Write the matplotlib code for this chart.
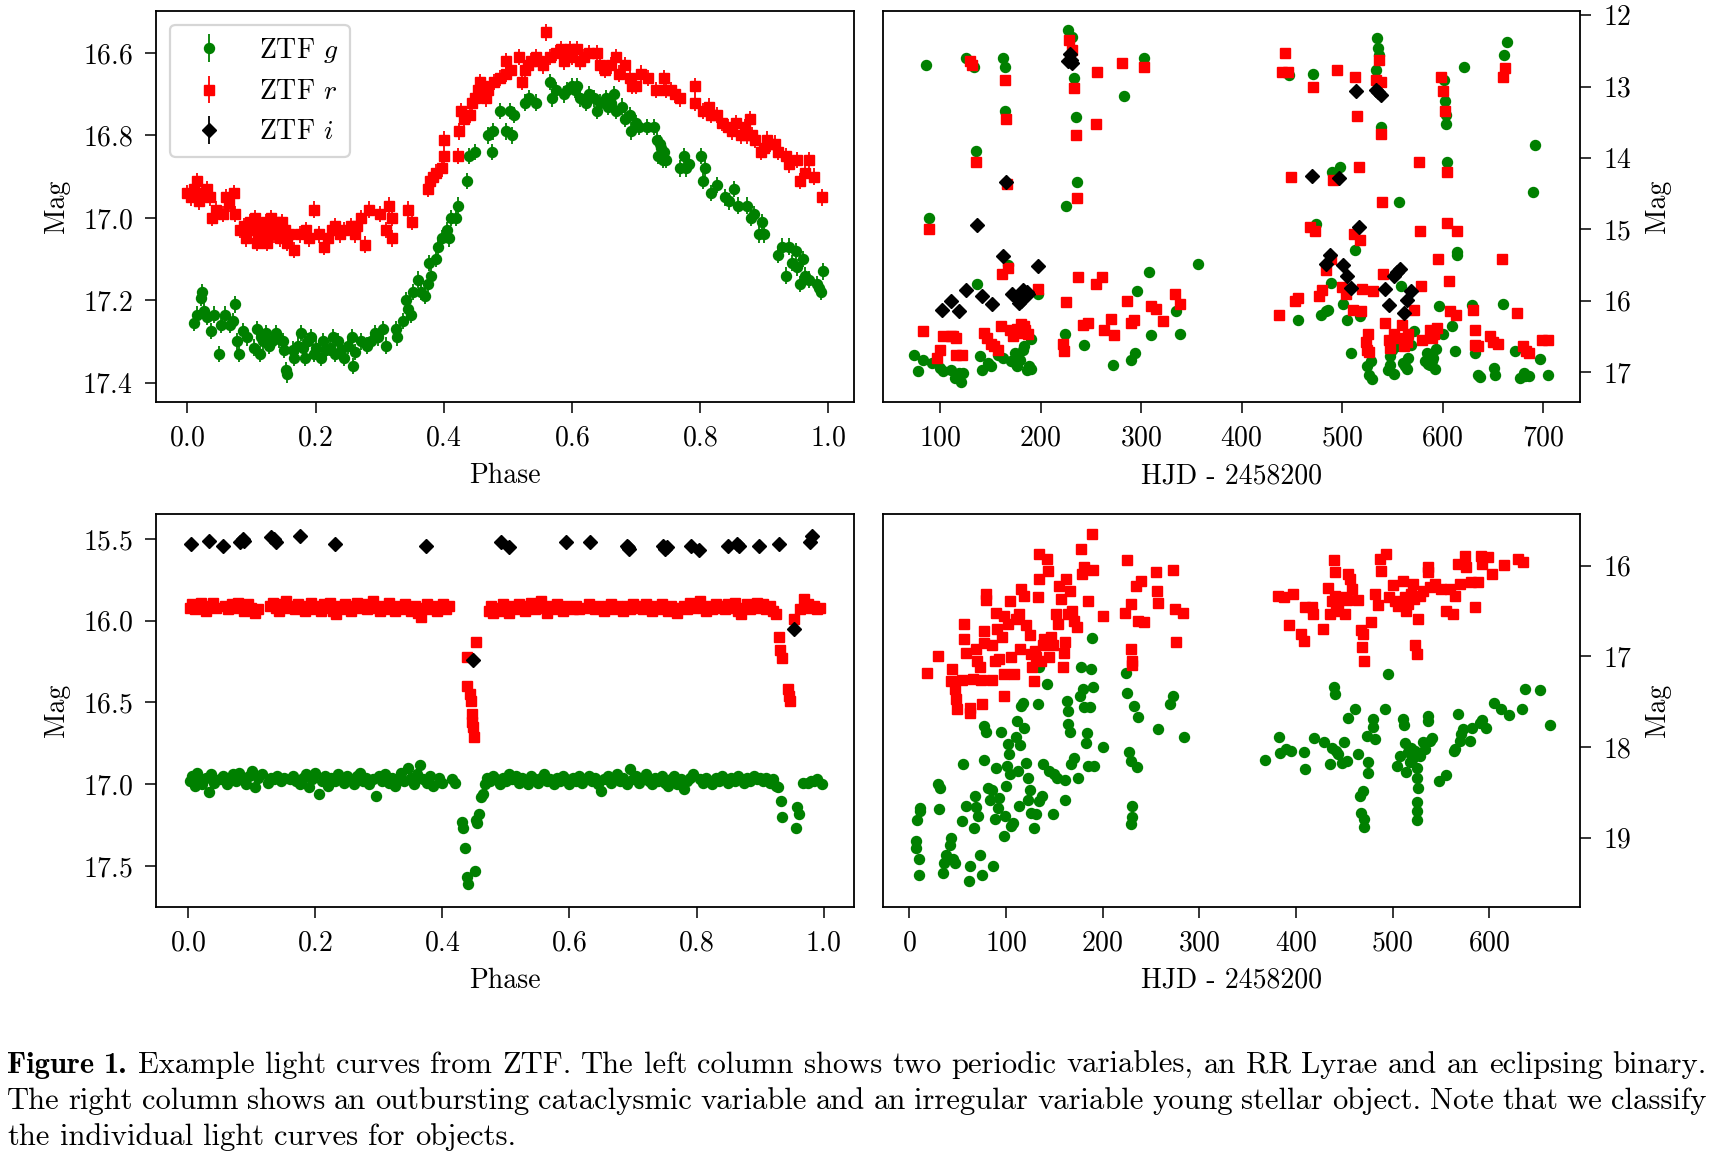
import matplotlib
matplotlib.use("Agg")
import matplotlib.pyplot as plt
import numpy as np
from matplotlib.ticker import MultipleLocator

plt.rcParams['font.family'] = ['cmr10', 'DejaVu Serif']
plt.rcParams['mathtext.fontset'] = 'cm'
plt.rcParams['axes.formatter.use_mathtext'] = True
plt.rcParams['font.size'] = 20
plt.rcParams['axes.unicode_minus'] = False

# ---------------- RR Lyrae (top left), phase folded ----------------
rr_g_phase = [0.010, 0.015, 0.021, 0.023, 0.026, 0.030, 0.036, 0.041, 0.049, 0.052,
              0.059, 0.067, 0.071, 0.075, 0.078, 0.080, 0.086, 0.093, 0.104, 0.108,
              0.113, 0.115, 0.122, 0.132, 0.139, 0.149, 0.151, 0.154, 0.156, 0.165,
              0.167, 0.177, 0.180, 0.184, 0.189, 0.193, 0.197, 0.201, 0.208, 0.212,
              0.223, 0.227, 0.231, 0.240, 0.245, 0.257, 0.259, 0.262, 0.271, 0.280,
              0.286, 0.293, 0.305, 0.310, 0.325, 0.327, 0.336, 0.345, 0.349, 0.353,
              0.365, 0.371, 0.375, 0.377, 0.380, 0.388, 0.392, 0.397, 0.405, 0.408,
              0.411, 0.420, 0.423, 0.436, 0.440, 0.449, 0.469, 0.475, 0.477, 0.488,
              0.498, 0.503, 0.507, 0.510, 0.527, 0.533, 0.545, 0.566, 0.570, 0.575,
              0.592, 0.601, 0.609, 0.613, 0.622, 0.627, 0.635, 0.640, 0.653, 0.657,
              0.666, 0.670, 0.679, 0.683, 0.691, 0.693, 0.705, 0.718, 0.729, 0.733,
              0.735, 0.740, 0.744, 0.748, 0.770, 0.776, 0.779, 0.783, 0.802, 0.805,
              0.809, 0.818, 0.827, 0.840, 0.846, 0.853, 0.860, 0.874, 0.880, 0.885,
              0.892, 0.898, 0.900, 0.922, 0.929, 0.935, 0.939, 0.944, 0.950, 0.957,
              0.961, 0.965, 0.983, 0.990, 0.993,
              0.118, 0.127, 0.143, 0.172, 0.217, 0.235, 0.250, 0.298, 0.342, 0.360,
              0.588, 0.605, 0.645, 0.662, 0.700, 0.738, 0.742, 0.952, 0.970, 0.987]
rr_g_mag = [17.255, 17.235, 17.195, 17.180, 17.227, 17.240, 17.275, 17.235, 17.330, 17.260,
            17.235, 17.260, 17.250, 17.210, 17.300, 17.330, 17.275, 17.290, 17.315, 17.270,
            17.330, 17.290, 17.280, 17.300, 17.280, 17.300, 17.320, 17.370, 17.380, 17.320,
            17.340, 17.280, 17.315, 17.340, 17.300, 17.290, 17.330, 17.315, 17.340, 17.300,
            17.315, 17.290, 17.330, 17.320, 17.340, 17.290, 17.360, 17.325, 17.300, 17.310,
            17.300, 17.280, 17.270, 17.310, 17.270, 17.290, 17.250, 17.220, 17.235, 17.180,
            17.180, 17.190, 17.160, 17.110, 17.140, 17.100, 17.070, 17.050, 17.030, 17.050,
            17.000, 17.000, 16.970, 16.910, 16.850, 16.840, 16.800, 16.840, 16.790, 16.740,
            16.790, 16.740, 16.800, 16.750, 16.720, 16.710, 16.720, 16.670, 16.710, 16.690,
            16.690, 16.680, 16.680, 16.710, 16.720, 16.700, 16.710, 16.740, 16.710, 16.730,
            16.700, 16.740, 16.730, 16.760, 16.750, 16.790, 16.780, 16.780, 16.780, 16.810,
            16.850, 16.830, 16.840, 16.860, 16.880, 16.850, 16.880, 16.870, 16.850, 16.910,
            16.880, 16.940, 16.920, 16.950, 16.960, 16.930, 16.970, 16.970, 17.000, 16.990,
            17.040, 17.010, 17.040, 17.090, 17.070, 17.140, 17.070, 17.110, 17.080, 17.160,
            17.100, 17.140, 17.160, 17.180, 17.130,
            17.300, 17.310, 17.295, 17.310, 17.320, 17.300, 17.310, 17.290, 17.200, 17.150,
            16.700, 16.690, 16.720, 16.720, 16.770, 16.820, 16.860, 17.120, 17.150, 17.170]

rr_r_phase = [0.000, 0.005, 0.010, 0.015, 0.018, 0.022, 0.035, 0.038, 0.045, 0.055,
              0.060, 0.065, 0.072, 0.075, 0.089, 0.092, 0.097, 0.100, 0.105, 0.110,
              0.114, 0.118, 0.122, 0.127, 0.131, 0.135, 0.140, 0.144, 0.148, 0.152,
              0.158, 0.167, 0.175, 0.185, 0.197, 0.205, 0.214, 0.220, 0.230, 0.238,
              0.245, 0.255, 0.262, 0.271, 0.278, 0.284, 0.300, 0.314, 0.319, 0.320,
              0.345, 0.351, 0.375, 0.379, 0.388, 0.397, 0.401, 0.422, 0.401, 0.424,
              0.427, 0.441, 0.449, 0.453, 0.457, 0.466, 0.470, 0.479, 0.488, 0.497,
              0.497, 0.518, 0.523, 0.527, 0.536, 0.545, 0.549, 0.560, 0.566, 0.575,
              0.583, 0.592, 0.601, 0.609, 0.613, 0.627, 0.640, 0.644, 0.661, 0.670,
              0.674, 0.683, 0.691, 0.700, 0.708, 0.731, 0.744, 0.748, 0.762, 0.770,
              0.792, 0.792, 0.805, 0.814, 0.827, 0.835, 0.844, 0.856, 0.865, 0.874,
              0.878, 0.887, 0.896, 0.905, 0.918, 0.922, 0.935, 0.939, 0.952, 0.957,
              0.965, 0.970, 0.978, 0.991,
              0.030, 0.082, 0.108, 0.125, 0.138, 0.155, 0.190, 0.225, 0.265, 0.310,
              0.383, 0.432, 0.445, 0.462, 0.505, 0.532, 0.555, 0.588, 0.597, 0.620,
              0.652, 0.695, 0.720, 0.755, 0.818, 0.850, 0.870, 0.882, 0.900, 0.910]
rr_r_mag = [16.940, 16.950, 16.930, 16.910, 16.960, 16.940, 16.950, 17.000, 16.980, 16.990,
            16.950, 16.965, 16.940, 16.990, 17.020, 17.050, 17.010, 17.030, 17.000, 17.040,
            17.020, 17.050, 17.010, 17.030, 17.000, 17.040, 17.020, 17.050, 17.010, 17.030,
            17.040, 17.078, 17.040, 17.030, 16.980, 17.040, 17.070, 17.050, 17.020, 17.040,
            17.030, 17.020, 17.040, 17.000, 17.065, 16.980, 16.990, 16.970, 17.000, 17.050,
            16.980, 17.010, 16.930, 16.910, 16.890, 16.880, 16.850, 16.850, 16.810, 16.790,
            16.740, 16.750, 16.710, 16.690, 16.670, 16.710, 16.690, 16.670, 16.660, 16.620,
            16.650, 16.610, 16.670, 16.640, 16.620, 16.610, 16.620, 16.550, 16.610, 16.600,
            16.590, 16.600, 16.610, 16.590, 16.620, 16.600, 16.600, 16.630, 16.630, 16.610,
            16.650, 16.630, 16.660, 16.680, 16.650, 16.690, 16.660, 16.690, 16.700, 16.710,
            16.680, 16.720, 16.740, 16.730, 16.750, 16.770, 16.780, 16.770, 16.800, 16.800,
            16.760, 16.810, 16.840, 16.810, 16.820, 16.840, 16.850, 16.870, 16.860, 16.910,
            16.890, 16.860, 16.900, 16.950,
            16.930, 17.030, 17.060, 17.060, 17.010, 17.060, 17.050, 17.030, 17.020, 17.030,
            16.900, 16.760, 16.720, 16.680, 16.640, 16.630, 16.630, 16.620, 16.590, 16.610,
            16.640, 16.680, 16.660, 16.690, 16.750, 16.790, 16.780, 16.800, 16.830, 16.820]

# ---------------- cataclysmic variable (top right) ----------------
cv_g_hjd = [74, 78, 83, 86, 89, 92, 100, 103, 111, 115,
            119, 121, 123, 126, 134, 136, 137, 140, 142, 147,
            150, 157, 162, 162, 164, 164, 167, 170, 174, 176,
            179, 182, 183, 186, 188, 190, 197, 224, 227, 231,
            233, 235, 236, 225, 243, 272, 283, 290, 294, 296,
            303, 308, 310, 335, 339, 357,
            447, 456, 471, 474, 479, 484, 486, 489, 490, 498,
            501, 505, 509, 513, 518, 525, 527, 529, 534, 535,
            536, 537, 539, 546, 548, 550, 555, 557, 559, 561,
            566, 569, 572, 583, 585, 588, 591, 594, 597, 600,
            601, 602, 603, 604, 609, 612, 614, 621, 629, 632,
            635, 637, 651, 652, 660, 661, 664, 672, 677, 681,
            686, 690, 692, 697, 705,
            588, 590, 593, 586, 563, 565, 552, 548, 530, 603,
            614, 682, 190, 175]
cv_g_mag = [16.76, 16.99, 16.83, 12.70, 14.84, 16.87, 16.94, 16.99, 16.97, 17.08,
            17.01, 17.14, 17.01, 12.60, 12.73, 13.90, 15.77, 16.78, 16.97, 16.87,
            16.92, 16.76, 16.80, 12.60, 12.73, 13.34, 15.50, 16.85, 16.73, 16.92,
            16.83, 16.69, 16.64, 16.97, 16.92, 16.53, 15.90, 16.46, 12.20, 12.31,
            12.88, 13.43, 14.33, 14.67, 16.62, 16.90, 13.13, 16.83, 16.73, 15.87,
            12.60, 15.60, 16.48, 16.15, 16.47, 15.49,
            12.84, 16.27, 12.82, 14.92, 16.20, 16.15, 16.13, 15.75, 14.20, 14.13,
            16.04, 16.27, 16.73, 15.29, 16.22, 16.92, 17.04, 16.85, 12.77, 12.32,
            12.46, 12.55, 13.57, 16.97, 16.78, 16.69, 16.64, 14.62, 15.80, 16.87,
            16.80, 16.62, 16.43, 16.85, 16.73, 16.90, 16.80, 16.67, 16.08, 16.46,
            12.90, 13.20, 13.53, 14.05, 16.36, 16.70, 15.32, 12.73, 16.06, 16.73,
            17.04, 17.07, 16.94, 17.04, 16.04, 12.56, 12.37, 16.71, 17.08, 17.01,
            17.06, 14.47, 13.82, 16.81, 17.04,
            16.78, 16.85, 16.95, 16.88, 16.92, 16.96, 17.02, 16.90, 17.10, 13.40,
            15.36, 17.06, 16.95, 16.88]

cv_r_hjd = [83, 89, 97, 100, 103, 111, 116, 122, 130, 132,
            136, 144, 146, 150, 153, 157, 160, 161, 164, 165,
            166, 167, 169, 172, 176, 180, 184, 187, 197, 222,
            223, 225, 228, 231, 233, 235, 236, 237, 242, 247,
            255, 256, 255, 261, 263, 270, 273, 281, 286, 290,
            293, 303, 310, 315, 322, 334, 339,
            437, 440, 443, 446, 449, 453, 456, 468, 471, 473,
            477, 480, 484, 489, 491, 495, 500, 504, 511, 512,
            513, 515, 517, 518, 519, 520, 525, 526, 531, 534,
            537, 539, 539, 540, 541, 543, 547, 552, 560, 562,
            566, 572, 577, 578, 579, 580, 588, 592, 596, 599,
            600, 602, 604, 604, 606, 607, 613, 614, 630, 632,
            635, 647, 655, 659, 660, 662, 674, 680, 686, 699,
            705,
            116, 178, 183, 524, 527, 548, 556, 565, 590, 595,
            632, 650, 683, 113]
cv_r_mag = [16.42, 14.99, 16.80, 16.69, 16.50, 16.50, 16.76, 16.76, 12.64, 12.69,
            14.05, 16.45, 16.52, 16.60, 16.64, 16.69, 16.36, 15.62, 12.91, 13.46,
            14.36, 15.54, 16.41, 16.50, 16.39, 16.32, 16.41, 16.46, 15.84, 16.60,
            16.71, 16.02, 12.35, 12.48, 13.02, 13.68, 14.56, 15.67, 16.34, 16.31,
            13.52, 12.79, 15.77, 15.67, 16.41, 16.25, 16.48, 12.67, 16.00, 16.31,
            16.27, 12.73, 16.08, 16.12, 16.29, 15.90, 16.05,
            16.20, 12.79, 12.53, 12.79, 14.27, 16.01, 15.96, 14.96, 13.00, 15.02,
            15.94, 15.85, 15.57, 15.42, 14.31, 12.76, 15.81, 15.91, 16.13, 15.06,
            12.87, 13.41, 14.13, 15.15, 16.14, 15.84, 16.69, 16.46, 15.87, 12.90,
            12.63, 12.94, 13.66, 14.62, 15.62, 16.31, 16.55, 16.46, 16.34, 16.64,
            16.46, 16.13, 14.05, 15.02, 15.80, 16.55, 16.41, 16.46, 15.41, 12.86,
            13.06, 13.34, 14.19, 14.91, 15.73, 16.15, 16.20, 15.02, 16.13, 16.41,
            16.64, 16.50, 16.60, 15.41, 12.87, 12.74, 16.17, 16.64, 16.73, 16.55,
            16.55,
            16.52, 16.45, 16.36, 16.58, 16.72, 16.66, 16.52, 16.58, 16.52, 16.38,
            16.62, 16.58, 16.70, 16.50]

cv_i_hjd = [102, 111, 119, 126, 137, 142, 151, 162, 165, 171,
            178, 182, 187, 197, 227, 229, 231,
            470, 484, 488, 497, 501, 505, 509, 514, 517, 534,
            539, 543, 547, 552, 558, 562, 565, 569,
            176, 186, 536, 555, 230, 180]
cv_i_mag = [16.13, 16.01, 16.15, 15.85, 14.94, 15.94, 16.05, 15.38, 14.34, 15.91,
            16.03, 15.85, 15.91, 15.52, 12.64, 12.54, 12.67,
            14.25, 15.48, 15.36, 14.28, 15.50, 15.66, 15.82, 13.06, 14.96, 13.04,
            13.11, 15.83, 16.06, 15.66, 15.55, 16.17, 15.99, 15.87,
            15.96, 15.88, 13.07, 15.60, 12.62, 16.00]

# ---------------- eclipsing binary (bottom left), phase folded ----------------
eb_i_phase = [0.004, 0.032, 0.054, 0.081, 0.088, 0.130, 0.138, 0.176, 0.231, 0.374,
              0.448, 0.492, 0.504, 0.595, 0.633, 0.690, 0.694, 0.747, 0.753, 0.792,
              0.804, 0.849, 0.867, 0.899, 0.930, 0.953, 0.979, 0.982,
              0.086, 0.134, 0.750, 0.863, 0.692]
eb_i_mag = [15.53, 15.51, 15.54, 15.52, 15.51, 15.49, 15.52, 15.48, 15.53, 15.54,
            16.24, 15.52, 15.55, 15.52, 15.52, 15.54, 15.56, 15.54, 15.55, 15.54,
            15.57, 15.54, 15.54, 15.54, 15.53, 16.05, 15.52, 15.48,
            15.50, 15.50, 15.56, 15.53, 15.55]

eb_r_phase = [0.002, 0.006, 0.010, 0.014, 0.019, 0.023, 0.028, 0.033, 0.038, 0.043,
              0.058, 0.063, 0.068, 0.073, 0.078, 0.083, 0.088, 0.093, 0.098, 0.104,
              0.109, 0.128, 0.133, 0.138, 0.143, 0.148, 0.153, 0.158, 0.163, 0.168,
              0.173, 0.178, 0.183, 0.188, 0.193, 0.198, 0.203, 0.208, 0.213, 0.218,
              0.223, 0.228, 0.232, 0.236, 0.241, 0.246, 0.251, 0.256, 0.261, 0.266,
              0.271, 0.276, 0.281, 0.286, 0.291, 0.296, 0.301, 0.306, 0.311, 0.316,
              0.321, 0.326, 0.331, 0.336, 0.341, 0.346, 0.351, 0.356, 0.361, 0.366,
              0.371, 0.376, 0.381, 0.386, 0.391, 0.396, 0.401, 0.406, 0.410,
              0.438, 0.439, 0.445, 0.447, 0.448, 0.449, 0.446, 0.444, 0.453, 0.473,
              0.476, 0.480, 0.485, 0.490, 0.495, 0.500, 0.505, 0.510, 0.515, 0.520,
              0.525, 0.530, 0.535, 0.540, 0.545, 0.550, 0.555, 0.560, 0.565, 0.570,
              0.575, 0.580, 0.585, 0.590, 0.595, 0.605, 0.610, 0.615, 0.625, 0.630,
              0.640, 0.645, 0.650, 0.655, 0.660, 0.665, 0.670, 0.675, 0.680, 0.685,
              0.690, 0.695, 0.700, 0.705, 0.710, 0.715, 0.720, 0.725, 0.730, 0.735,
              0.740, 0.745, 0.750, 0.755, 0.760, 0.765, 0.770, 0.775, 0.780, 0.785,
              0.790, 0.795, 0.800, 0.805, 0.810, 0.815, 0.820, 0.825, 0.830, 0.835,
              0.840, 0.845, 0.850, 0.855, 0.860, 0.865, 0.870, 0.875, 0.880, 0.885,
              0.890, 0.895, 0.900, 0.905, 0.910, 0.915, 0.920, 0.925,
              0.930, 0.932, 0.935, 0.944, 0.947, 0.945, 0.954, 0.963, 0.970, 0.975,
              0.980, 0.985, 0.990, 0.994]
eb_r_mag = [15.92, 15.90, 15.93, 15.91, 15.89, 15.92, 15.94, 15.91, 15.89, 15.92,
            15.91, 15.93, 15.90, 15.92, 15.89, 15.91, 15.94, 15.90, 15.92, 15.95,
            15.93, 15.91, 15.89, 15.92, 15.94, 15.90, 15.88, 15.92, 15.91, 15.93,
            15.90, 15.92, 15.94, 15.91, 15.89, 15.93, 15.91, 15.94, 15.90, 15.92,
            15.89, 15.94, 15.96, 15.91, 15.93, 15.90, 15.92, 15.94, 15.91, 15.89,
            15.92, 15.90, 15.93, 15.91, 15.88, 15.92, 15.94, 15.91, 15.93, 15.89,
            15.92, 15.94, 15.91, 15.93, 15.90, 15.92, 15.94, 15.91, 15.95, 15.98,
            15.92, 15.90, 15.93, 15.91, 15.94, 15.92, 15.90, 15.93, 15.91,
            16.22, 16.40, 16.49, 16.57, 16.65, 16.71, 16.62, 16.45, 16.13, 15.94,
            15.91, 15.95, 15.92, 15.94, 15.90, 15.92, 15.95, 15.91, 15.93, 15.90,
            15.92, 15.94, 15.91, 15.89, 15.93, 15.90, 15.88, 15.92, 15.95, 15.91,
            15.93, 15.90, 15.92, 15.94, 15.91, 15.93, 15.91, 15.93, 15.92, 15.90,
            15.93, 15.91, 15.92, 15.94, 15.91, 15.90, 15.93, 15.91, 15.92, 15.94,
            15.91, 15.93, 15.90, 15.92, 15.91, 15.93, 15.90, 15.92, 15.94, 15.91,
            15.93, 15.90, 15.92, 15.94, 15.91, 15.93, 15.95, 15.92, 15.91, 15.93,
            15.89, 15.92, 15.90, 15.88, 15.92, 15.94, 15.91, 15.93, 15.90, 15.92,
            15.91, 15.93, 15.90, 15.92, 15.89, 15.94, 15.96, 15.92, 15.90, 15.93,
            15.91, 15.89, 15.92, 15.90, 15.93, 15.91, 15.94, 15.96,
            16.10, 16.18, 16.23, 16.42, 16.49, 16.46, 15.99, 15.93, 15.87, 15.90,
            15.92, 15.91, 15.93, 15.92]

eb_g_phase = [0.002, 0.006, 0.010, 0.014, 0.018, 0.022, 0.028, 0.032, 0.036, 0.040,
              0.050, 0.055, 0.060, 0.065, 0.070, 0.075, 0.080, 0.085, 0.090, 0.095,
              0.100, 0.105, 0.110, 0.115, 0.125, 0.130, 0.135, 0.140, 0.145, 0.150,
              0.160, 0.165, 0.170, 0.175, 0.180, 0.185, 0.190, 0.195, 0.200, 0.205,
              0.210, 0.215, 0.220, 0.225, 0.230, 0.235, 0.240, 0.245, 0.250, 0.255,
              0.260, 0.265, 0.270, 0.275, 0.280, 0.285, 0.290, 0.295, 0.300, 0.305,
              0.310, 0.315, 0.320, 0.325, 0.330, 0.335, 0.340, 0.345, 0.350, 0.355,
              0.360, 0.365, 0.370, 0.375, 0.380, 0.385, 0.395, 0.400, 0.415, 0.420,
              0.431, 0.433, 0.435, 0.438, 0.440, 0.451, 0.453, 0.455, 0.457, 0.460,
              0.464, 0.467, 0.470, 0.475, 0.480, 0.485, 0.490, 0.495, 0.500, 0.505,
              0.510, 0.515, 0.520, 0.525, 0.530, 0.535, 0.540, 0.545, 0.550, 0.555,
              0.560, 0.565, 0.570, 0.575, 0.580, 0.585, 0.590, 0.595, 0.600, 0.605,
              0.610, 0.615, 0.620, 0.625, 0.630, 0.635, 0.640, 0.645, 0.650, 0.655,
              0.660, 0.665, 0.670, 0.675, 0.680, 0.685, 0.690, 0.695, 0.700, 0.705,
              0.710, 0.715, 0.720, 0.725, 0.730, 0.735, 0.740, 0.745, 0.750, 0.755,
              0.760, 0.765, 0.770, 0.775, 0.780, 0.785, 0.790, 0.795, 0.805, 0.810,
              0.815, 0.820, 0.825, 0.830, 0.835, 0.840, 0.845, 0.850, 0.855, 0.860,
              0.865, 0.870, 0.875, 0.880, 0.885, 0.890, 0.895, 0.900, 0.905,
              0.910, 0.915, 0.920, 0.925, 0.928, 0.933, 0.935, 0.957, 0.959, 0.961,
              0.967, 0.975, 0.980, 0.985, 0.990, 0.998]
eb_g_mag = [16.98, 16.95, 17.01, 16.93, 16.97, 17.00, 16.96, 17.05, 16.94, 16.99,
            16.97, 16.95, 17.00, 16.96, 16.94, 16.98, 16.93, 16.97, 17.00, 16.95,
            16.92, 17.02, 16.96, 16.94, 16.99, 16.96, 16.97, 16.95, 16.98, 16.96,
            16.97, 16.95, 16.98, 17.00, 16.96, 16.94, 17.02, 16.97, 16.93, 17.06,
            16.98, 16.95, 17.01, 16.96, 16.98, 16.94, 16.97, 16.99, 16.95, 16.97,
            17.00, 16.95, 16.93, 16.98, 16.96, 17.00, 16.97, 17.07, 16.95, 16.98,
            16.94, 16.99, 16.96, 17.01, 16.97, 16.93, 16.98, 16.90, 16.96, 17.00,
            16.94, 16.88, 16.97, 16.99, 16.95, 17.01, 16.96, 16.99, 16.97, 16.99,
            17.23, 17.27, 17.39, 17.57, 17.61, 17.53, 17.22, 17.24, 17.18, 17.08,
            17.06, 17.00, 16.96, 16.98, 16.95, 16.97, 17.00, 16.96, 16.98, 16.94,
            16.97, 16.95, 16.99, 16.96, 16.98, 17.00, 16.95, 16.97, 16.99, 16.96,
            16.94, 16.98, 16.97, 17.00, 16.96, 16.98, 16.95, 16.97, 17.00, 16.96,
            16.98, 16.95, 16.99, 16.97, 16.95, 16.98, 16.96, 17.00, 17.04, 16.97,
            16.95, 16.99, 16.96, 16.94, 16.98, 16.96, 17.00, 16.91, 16.97, 16.95,
            16.99, 16.96, 16.94, 16.98, 17.00, 16.96, 16.98, 16.95, 16.99, 17.01,
            16.97, 16.95, 17.00, 16.97, 17.03, 16.98, 16.96, 16.94, 16.97, 16.99,
            16.96, 16.98, 17.00, 16.96, 16.98, 16.95, 16.97, 16.99, 16.96, 16.98,
            16.95, 16.97, 16.99, 16.96, 16.98, 16.95, 16.97, 16.96, 16.98,
            16.96, 16.99, 16.97, 17.01, 17.02, 17.10, 17.20, 17.27, 17.14, 17.18,
            16.99, 16.99, 16.98, 16.98, 16.97, 17.00]

# ---------------- young stellar object (bottom right) ----------------
yso_r_hjd = [18.6, 29.7, 44.5, 42.8, 47.0, 48.6, 49.7, 54.5, 57.2, 56.6,
             59.0, 63.4, 63.4, 65.9, 69.3, 70.3, 72.8, 74.5, 75.5, 77.9,
             79.7, 79.7, 77.9, 85.5, 85.5, 88.3, 90.0, 91.0, 93.4, 95.9,
             98.0, 98.6, 98.6, 102.0, 103.8, 105.5, 108.0, 110.7, 114.0, 115.0,
             115.9, 119.0, 121.0, 124.5, 126.0, 126.9, 129.0, 129.7, 131.0, 133.0,
             134.0, 134.8, 136.0, 138.0, 139.3, 142.8, 143.4, 145.0, 147.0, 148.6,
             152.0, 153.8, 154.5, 157.0, 158.9, 160.7, 160.0, 162.4, 164.0, 165.9,
             168.0, 171.0, 173.8, 178.0, 178.6, 181.0, 184.8, 189.0, 190.0, 200.0,
             222.8, 225.5, 229.0, 229.7, 230.3, 231.0, 234.8, 236.6, 239.3, 243.4,
             255.5, 256.6, 257.2, 272.8, 274.5, 275.5, 283.0,
             381.7, 387.9, 392.7, 397.2, 405.8, 408.6, 409.3, 416.2, 417.9, 428.2,
             433.4, 435.1, 436.9, 439.6, 440.3, 440.3, 442.0, 443.8, 447.2, 450.6,
             452.4, 454.1, 455.8, 458.2, 464.4, 467.2, 467.9, 469.6, 470.6, 478.2,
             481.6, 485.1, 486.8, 488.5, 493.6, 496.1, 500.6, 502.4, 505.8, 511.0,
             512.7, 514.4, 516.2, 519.6, 521.3, 522.4, 523.7, 524.8, 526.5, 528.2,
             531.7, 536.2, 536.8, 538.6, 544.4, 550.6, 555.8, 559.3, 562.7, 565.1,
             567.5, 570.2, 574.6, 576.3, 580.8, 585.8, 588.5, 591.3, 592.7, 598.9,
             602.4, 615.5, 630.0, 635.1]
yso_r_mag = [17.18, 17.00, 17.14, 17.27, 17.36, 17.47, 17.58, 17.26, 16.64, 16.81,
             16.96, 17.57, 17.63, 17.25, 16.92, 17.05, 17.12, 17.26, 17.53, 16.72,
             16.38, 16.31, 16.85, 16.87, 17.26, 17.05, 16.52, 16.70, 17.03, 16.79,
             17.20, 17.44, 16.55, 16.64, 16.39, 17.01, 17.20, 16.59, 16.53, 16.92,
             16.26, 16.33, 16.66, 16.76, 16.98, 17.12, 17.27, 16.94, 17.01, 16.35,
             15.87, 16.15, 17.05, 16.88, 16.81, 15.93, 16.06, 17.01, 16.79, 16.88,
             16.53, 16.64, 16.22, 16.37, 17.12, 16.84, 16.96, 16.15, 16.53, 16.28,
             16.50, 16.61, 16.68, 15.82, 16.09, 16.02, 16.39, 15.65, 16.05, 16.55,
             16.52, 15.94, 16.42, 16.92, 17.05, 17.10, 16.22, 16.61, 16.17, 16.62,
             16.07, 16.28, 16.41, 16.05, 16.48, 16.84, 16.52,
             16.34, 16.35, 16.66, 16.31, 16.75, 16.83, 16.46, 16.46, 16.53, 16.70,
             16.25, 16.53, 16.39, 15.94, 16.07, 16.33, 16.50, 16.42, 16.35, 16.53,
             16.38, 16.09, 16.15, 16.26, 16.38, 16.71, 16.90, 16.75, 17.05, 16.62,
             16.31, 16.43, 15.93, 16.06, 15.87, 16.35, 16.21, 16.39, 16.44, 16.17,
             16.35, 16.50, 16.42, 16.31, 16.20, 16.37, 16.87, 16.98, 16.59, 16.33,
             16.28, 16.02, 16.07, 16.24, 16.20, 16.26, 16.50, 16.26, 16.53, 16.33,
             15.98, 16.20, 15.89, 16.02, 16.18, 16.46, 16.18, 15.89, 15.98, 15.91,
             16.09, 15.99, 15.93, 15.96]

yso_g_hjd = [9.7, 7.2, 7.2, 7.9, 10.7, 11.7, 11.7, 29.7, 31.4, 30.7,
             34.8, 35.9, 38.3, 43.4, 42.4, 45.2, 47.6, 54.5, 55.5, 59.0,
             62.4, 63.4, 66.9, 68.3, 69.3, 71.0, 72.8, 75.2, 77.2, 77.9,
             79.7, 82.0, 84.0, 85.5, 86.6, 88.3, 90.0, 91.7, 93.4, 94.5,
             98.0, 99.3, 100.3, 101.4, 102.0, 102.8, 104.8, 105.5, 107.2, 110.7,
             112.4, 114.0, 114.8, 115.9, 117.6, 111.7, 119.3, 121.0, 123.4, 124.5,
             123.4, 126.0, 129.0, 131.4, 133.0, 134.0, 134.8, 137.2, 138.6, 142.8,
             145.0, 148.6, 149.7, 153.0, 160.7, 161.4, 163.4, 164.0, 164.8, 165.9,
             167.6, 171.0, 174.5, 176.2, 178.0, 179.6, 180.7, 183.0, 184.0, 184.8,
             186.6, 187.6, 189.0, 190.0, 191.0, 200.3, 224.5, 225.5, 227.0, 229.0,
             229.7, 230.3, 230.3, 233.0, 235.9, 237.2, 257.2, 269.3, 272.8, 283.8,
             367.9, 382.4, 383.4, 390.3, 394.8, 408.2, 409.3, 418.6, 429.3, 435.1,
             436.9, 439.6, 440.3, 442.0, 443.8, 447.2, 449.9, 452.4, 454.1, 461.0,
             464.4, 466.2, 469.6, 467.2, 470.6, 470.3, 473.1, 474.8, 474.1, 480.0,
             480.0, 481.7, 492.0, 495.5, 505.1, 507.5, 511.0, 511.7, 512.7, 513.4,
             516.2, 517.9, 519.6, 521.3, 523.1, 524.8, 525.8, 526.5, 524.8, 525.5,
             525.8, 528.2, 531.7, 533.4, 536.2, 536.8, 538.6, 541.0, 547.9, 555.8,
             563.8, 564.4, 567.2, 569.6, 571.3, 573.1, 580.0, 582.4, 590.3, 592.7,
             596.2, 605.1, 612.0, 620.3, 634.1, 636.9, 652.4, 662.7]
yso_g_mag = [19.41, 19.04, 19.11, 18.81, 19.24, 18.67, 18.71, 18.41, 18.45, 18.68,
             19.39, 19.28, 19.19, 19.00, 19.08, 19.24, 19.28, 18.82, 18.19, 18.65,
             19.48, 19.31, 18.89, 18.54, 18.66, 18.76, 19.19, 19.41, 18.14, 17.77,
             17.84, 18.45, 18.58, 18.47, 19.31, 18.80, 18.23, 18.67, 18.56, 17.84,
             18.98, 18.76, 18.43, 18.21, 17.97, 18.08, 18.30, 18.87, 18.84, 17.89,
             18.27, 18.65, 17.98, 17.55, 17.51, 17.71, 17.79, 18.18, 18.34, 18.47,
             18.58, 18.73, 18.89, 18.74, 17.53, 17.12, 18.60, 18.54, 18.19, 17.31,
             18.27, 18.74, 18.30, 18.34, 18.59, 18.36, 17.49, 17.60, 17.75, 17.84,
             18.19, 18.12, 18.34, 17.44, 17.12, 17.36, 17.56, 17.96, 17.85, 18.21,
             17.56, 17.14, 16.80, 17.34, 18.21, 18.00, 17.18, 17.41, 18.06, 18.15,
             18.85, 18.65, 18.77, 17.55, 18.22, 17.67, 17.80, 17.53, 17.44, 17.89,
             18.14, 17.89, 18.07, 18.02, 18.04, 18.06, 18.24, 17.90, 17.94, 18.19,
             18.01, 17.34, 17.42, 18.04, 18.08, 18.18, 17.94, 18.15, 17.68, 17.58,
             18.08, 18.54, 18.49, 18.73, 18.80, 18.88, 17.88, 18.17, 18.29, 17.69,
             17.78, 17.91, 17.58, 17.19, 18.21, 18.10, 17.69, 17.76, 17.96, 18.28,
             18.06, 18.17, 18.01, 18.12, 18.04, 18.23, 18.34, 18.45, 18.61, 18.71,
             18.81, 18.10, 17.94, 18.02, 17.66, 17.71, 17.93, 17.90, 18.38, 18.31,
             18.04, 18.02, 17.64, 17.93, 17.86, 17.80, 17.93, 17.79, 17.74, 17.70,
             17.79, 17.52, 17.58, 17.65, 17.58, 17.36, 17.37, 17.76]

caption_lines = [
    "Example light curves from ZTF. The left column shows two periodic variables, an RR Lyrae and an eclipsing binary.",
    "The right column shows an outbursting cataclysmic variable and an irregular variable young stellar object. Note that we classify",
    "the individual light curves for objects.",
]

G_COL, R_COL, I_COL = 'green', 'red', 'black'
MS = 7.2


def draw_band(ax, x, y, err, color, marker, label=None):
    ax.errorbar(x, y, yerr=err, fmt=marker, color=color, ms=MS,
                elinewidth=1.3, capsize=0, label=label)


def style_axes(ax, right=False):
    for s in ax.spines.values():
        s.set_linewidth(1.3)
    ax.tick_params(direction='out', length=7.7, width=1.1, pad=9, labelsize=20)
    if right:
        ax.yaxis.tick_right()
        ax.yaxis.set_label_position('right')
    ax.set_ylabel('Mag', fontsize=20, labelpad=9)


fig = plt.figure(figsize=(17.19, 11.61), dpi=100)
ax_rr = fig.add_axes([0.0908, 0.6537, 0.4060, 0.3368])
ax_cv = fig.add_axes([0.5137, 0.6537, 0.4055, 0.3368])
ax_eb = fig.add_axes([0.0908, 0.2188, 0.4060, 0.3385])
ax_yso = fig.add_axes([0.5137, 0.2188, 0.4055, 0.3385])

# RR Lyrae
draw_band(ax_rr, rr_g_phase, rr_g_mag, 0.02, G_COL, 'o', 'ZTF $g$')
draw_band(ax_rr, rr_r_phase, rr_r_mag, 0.02, R_COL, 's', 'ZTF $r$')
draw_band(ax_rr, [np.nan], [np.nan], [np.nan], I_COL, 'D', 'ZTF $i$')
ax_rr.set_xlim(-0.049, 1.041)
ax_rr.set_ylim(17.447, 16.498)
ax_rr.xaxis.set_major_locator(MultipleLocator(0.2))
ax_rr.yaxis.set_major_locator(MultipleLocator(0.2))
ax_rr.set_xlabel('Phase', fontsize=20, labelpad=8)
style_axes(ax_rr)
leg = ax_rr.legend(loc='upper left', fontsize=20, framealpha=0.8, edgecolor='0.8')
leg.get_frame().set_linewidth(1.6)

# cataclysmic variable
draw_band(ax_cv, cv_g_hjd, cv_g_mag, 0.03, G_COL, 'o')
draw_band(ax_cv, cv_r_hjd, cv_r_mag, 0.03, R_COL, 's')
draw_band(ax_cv, cv_i_hjd, cv_i_mag, 0.03, I_COL, 'D')
ax_cv.set_xlim(43, 737)
ax_cv.set_ylim(17.42, 11.94)
ax_cv.xaxis.set_major_locator(MultipleLocator(100))
ax_cv.yaxis.set_major_locator(MultipleLocator(1))
ax_cv.set_xlabel('HJD - 2458200', fontsize=20, labelpad=8)
style_axes(ax_cv, right=True)

# eclipsing binary
draw_band(ax_eb, eb_g_phase, eb_g_mag, 0.02, G_COL, 'o')
draw_band(ax_eb, eb_r_phase, eb_r_mag, 0.02, R_COL, 's')
draw_band(ax_eb, eb_i_phase, eb_i_mag, 0.02, I_COL, 'D')
ax_eb.set_xlim(-0.051, 1.048)
ax_eb.set_ylim(17.751, 15.347)
ax_eb.xaxis.set_major_locator(MultipleLocator(0.2))
ax_eb.yaxis.set_major_locator(MultipleLocator(0.5))
ax_eb.set_xlabel('Phase', fontsize=20, labelpad=8)
style_axes(ax_eb)

# young stellar object
draw_band(ax_yso, yso_g_hjd, yso_g_mag, 0.04, G_COL, 'o')
draw_band(ax_yso, yso_r_hjd, yso_r_mag, 0.03, R_COL, 's')
ax_yso.set_xlim(-27, 694)
ax_yso.set_ylim(19.765, 15.43)
ax_yso.xaxis.set_major_locator(MultipleLocator(100))
ax_yso.yaxis.set_major_locator(MultipleLocator(1))
ax_yso.set_xlabel('HJD - 2458200', fontsize=20, labelpad=8)
style_axes(ax_yso, right=True)

# caption, set word by word so the first two lines are justified
W, H = fig.get_size_inches() * fig.dpi
cap_size = 22
x_left, x_right = 7.0, 1707.0
baselines = [1072.7, 1109.0, 1145.0]
renderer = fig.canvas.get_renderer()
space_px = 0.333 * cap_size * fig.dpi / 72.0

for n, line in enumerate(caption_lines):
    words = line.split(' ')
    fams = [['cmr10', 'DejaVu Serif']] * len(words)
    if n == 0:
        words = ['Figure', '1.'] + words
        fams = [['cmb10', 'DejaVu Serif']] * 2 + fams
    y = 1.0 - baselines[n] / H
    texts = [fig.text(0, y, w, fontsize=cap_size, family=f, va='baseline', ha='left')
             for w, f in zip(words, fams)]
    widths = [t.get_window_extent(renderer).width for t in texts]
    if n < 2:
        gap = (x_right - x_left - sum(widths)) / (len(words) - 1)
        gap = max(gap, 0.6 * space_px)
    else:
        gap = space_px
    xpos = x_left
    for t, w in zip(texts, widths):
        t.set_x(xpos / W)
        xpos += w + gap

fig.savefig('out.png', dpi=100)
